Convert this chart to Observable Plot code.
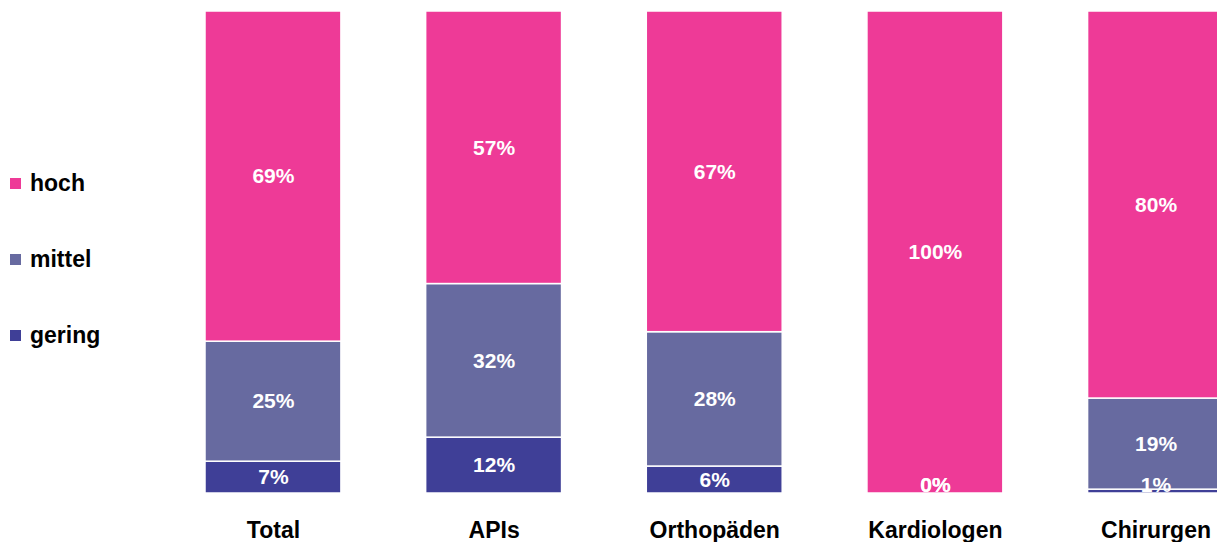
<!DOCTYPE html>
<html>
<head>
<meta charset="utf-8">
<script src="https://cdn.jsdelivr.net/npm/d3@7"></script>
<script src="https://cdn.jsdelivr.net/npm/@observablehq/plot@0.6"></script>
<style>
  html, body { margin: 0; padding: 0; background: #fff; overflow: hidden; }
  #wrap { position: relative; width: 1217px; height: 542px; overflow: hidden; font-family: "Liberation Sans", Arial, sans-serif; }
  #legend { position: absolute; left: 0; top: 0; }
  .item { position: absolute; left: 10px; display: flex; align-items: center; white-space: nowrap; font-weight: bold; font-size: 23px; color: #000; }
  .sw { width: 11px; height: 11px; margin-right: 9px; }
  #chart svg { overflow: visible; }
</style>
</head>
<body>
<div id="wrap">
  <div id="chart"></div>
  <div id="legend"></div>
</div>
<script>
const categories = ["Total", "APIs", "Orthopäden", "Kardiologen", "Chirurgen"];
const levels = ["gering", "mittel", "hoch"];            // bottom to top
const gering = [6.6, 11.6, 5.6, 0, 0.8];
const mittel = [24.9, 31.9, 27.9, 0, 18.9];
const hoch   = [68.5, 56.6, 66.6, 100, 80.3];
const colors = ["#3F3F97", "#676AA0", "#EE3A97"];
const legendOrder = ["hoch", "mittel", "gering"];

const series = {gering, mittel, hoch};
const rows = [];
categories.forEach((c, i) => {
  const total = levels.reduce((s, l) => s + series[l][i], 0);
  let acc = 0;
  levels.forEach(l => {
    const v = series[l][i];
    const y1 = acc / total;
    acc += v;
    const y2 = acc / total;
    rows.push({category: c, level: l, value: v, y1, y2, mid: Math.max((y1 + y2) / 2, 0.017)});
  });
});

const plot = Plot.plot({
  width: 1217,
  height: 542,
  marginTop: 11,
  marginBottom: 49,
  marginLeft: 0,
  marginRight: 0,
  style: {fontFamily: "'Liberation Sans', Arial, sans-serif", background: "transparent"},
  x: {domain: categories, range: [205, 1223.5], paddingInner: 0.384, paddingOuter: 0, align: 0, round: false, label: null},
  y: {domain: [0, 1], axis: null},
  color: {domain: levels, range: colors},
  marks: [
    Plot.rectY(rows, {x: "category", y1: "y1", y2: "y2", fill: "level", stroke: "white", strokeWidth: 1.5}),
    Plot.text(rows, {x: "category", y: "mid", text: d => Math.round(d.value) + "%", fill: "white", fontSize: 21, fontWeight: "bold"}),
    Plot.axisX({tickSize: 0, tickPadding: 28, fontSize: 23, fontWeight: "bold", label: null, color: "#000"})
  ]
});
document.getElementById("chart").appendChild(plot);

const legend = document.getElementById("legend");
const legendY = {hoch: 183, mittel: 259, gering: 335};
legendOrder.forEach(l => {
  const div = document.createElement("div");
  div.className = "item";
  div.style.top = (legendY[l] - 13) + "px";
  div.style.height = "26px";
  const sw = document.createElement("span");
  sw.className = "sw";
  sw.style.background = colors[levels.indexOf(l)];
  const t = document.createElement("span");
  t.textContent = l;
  div.appendChild(sw);
  div.appendChild(t);
  legend.appendChild(div);
});
</script>
</body>
</html>
